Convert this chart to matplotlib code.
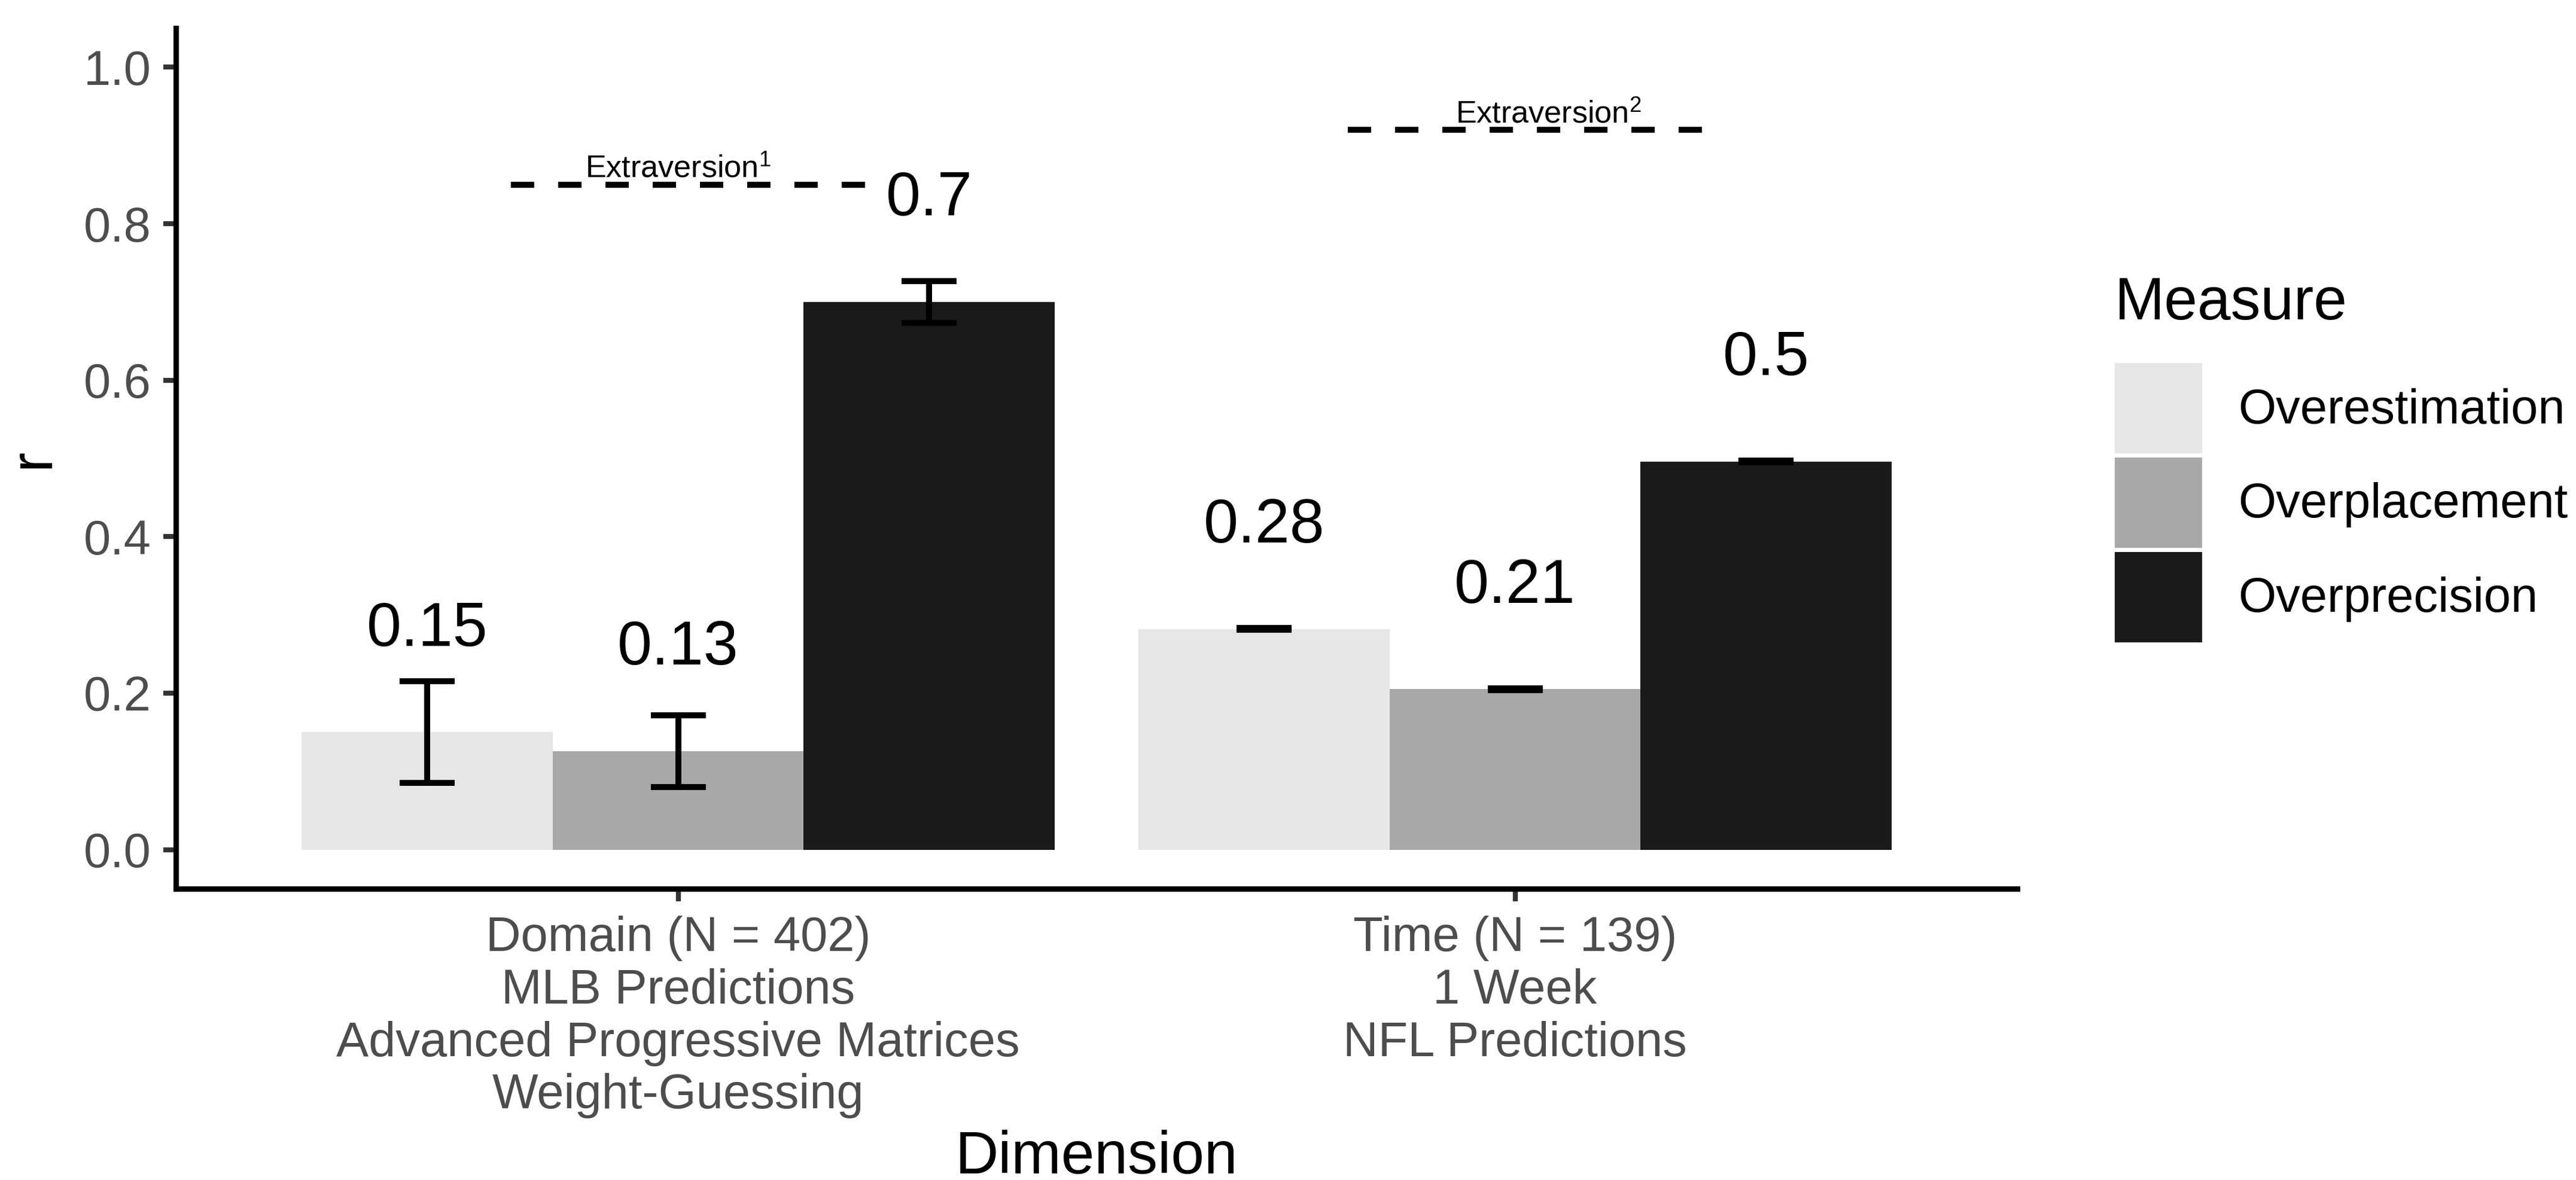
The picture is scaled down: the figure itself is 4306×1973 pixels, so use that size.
import numpy as np
import matplotlib
matplotlib.use("Agg")
import matplotlib.pyplot as plt

plt.rcParams['font.family'] = ['Liberation Sans', 'DejaVu Sans']
plt.rcParams['mathtext.fontset'] = 'custom'
plt.rcParams['mathtext.rm'] = 'Liberation Sans'
plt.rcParams['mathtext.it'] = 'Liberation Sans:italic'

# data
groups = ["Domain (N = 402)\nMLB Predictions\nAdvanced Progressive Matrices\nWeight-Guessing",
          "Time (N = 139)\n1 Week\nNFL Predictions"]
measures = ["Overestimation", "Overplacement", "Overprecision"]
colors = ["#E6E6E6", "#A8A8A8", "#1A1A1A"]

r_domain = [0.150, 0.126, 0.700]
r_time = [0.282, 0.205, 0.496]
err_domain = [0.065, 0.046, 0.027]
err_time = [0.001, 0.001, 0.001]
lab_domain = ["0.15", "0.13", "0.7"]
lab_time = ["0.28", "0.21", "0.5"]

extra_text = ["Extraversion$^{\\mathrm{1}}$", "Extraversion$^{\\mathrm{2}}$"]
extra_y = [0.85, 0.92]
extra_x0 = [0.8, 1.8]
extra_x1 = [1.225, 2.225]
extra_tx = [1.0, 2.04]

fig = plt.figure(figsize=(4306 / 300, 1973 / 300), dpi=300)
ax = fig.add_axes([0.0683, 0.2468, 0.7148, 0.7294])

xc = np.array([1, 2])
w = 0.3
handles = []
for i, m in enumerate(measures):
    vals = [r_domain[i], r_time[i]]
    errs = [err_domain[i], err_time[i]]
    labs = [lab_domain[i], lab_time[i]]
    xs = xc + (i - 1) * w
    b = ax.bar(xs, vals, width=w, color=colors[i], linewidth=0, label=m, zorder=2)
    handles.append(b)
    ax.errorbar(xs, vals, yerr=errs, fmt='none', ecolor='black', elinewidth=2.4,
                capsize=11, capthick=2.4, zorder=3)
    for x, v, t in zip(xs, vals, labs):
        ax.text(x, v + 0.131, t, ha='center', va='center', fontsize=25, color='black')

for k in range(2):
    ax.plot([extra_x0[k], extra_x1[k]], [extra_y[k], extra_y[k]], color='black', lw=2.4,
            linestyle=(0, (3.9, 4.0)), dash_capstyle='butt')
    ax.text(extra_tx[k], extra_y[k] + 0.009, extra_text[k], ha='center', va='baseline',
            fontsize=12.5, color='black')

ax.set_xlim(0.4, 2.6)
ax.set_ylim(-0.05, 1.05)
ax.set_xticks(xc)
ax.set_xticklabels(groups, fontsize=19.5, color='#4D4D4D', linespacing=1.2)
ax.set_yticks(np.arange(0, 1.01, 0.2))
ax.set_yticklabels([f"{t:.1f}" for t in np.arange(0, 1.01, 0.2)], fontsize=19.5, color='#4D4D4D')
ax.tick_params(axis='both', length=5, width=2, color='#333333', pad=5)
ax.tick_params(axis='x', pad=5.8)

for s in ['top', 'right']:
    ax.spines[s].set_visible(False)
for s in ['left', 'bottom']:
    ax.spines[s].set_linewidth(2.2)
    ax.spines[s].set_color('black')

ax.set_xlabel("Dimension", fontsize=24, labelpad=4.5)
ax.set_ylabel("r", fontsize=24, labelpad=9)

fig.text(3535 / 4306, 1 - 508 / 1973, "Measure", ha='left', va='center', fontsize=24)
fig.legend(handles, measures, loc='upper left', bbox_to_anchor=(3535 / 4306, 1 - 607 / 1973),
           bbox_transform=fig.transFigure, frameon=False, borderpad=0, borderaxespad=0,
           handlelength=1.8, handleheight=2.49, handletextpad=0.74, labelspacing=0.08,
           fontsize=19.5)

fig.savefig("out.png", dpi=300, facecolor='white')
